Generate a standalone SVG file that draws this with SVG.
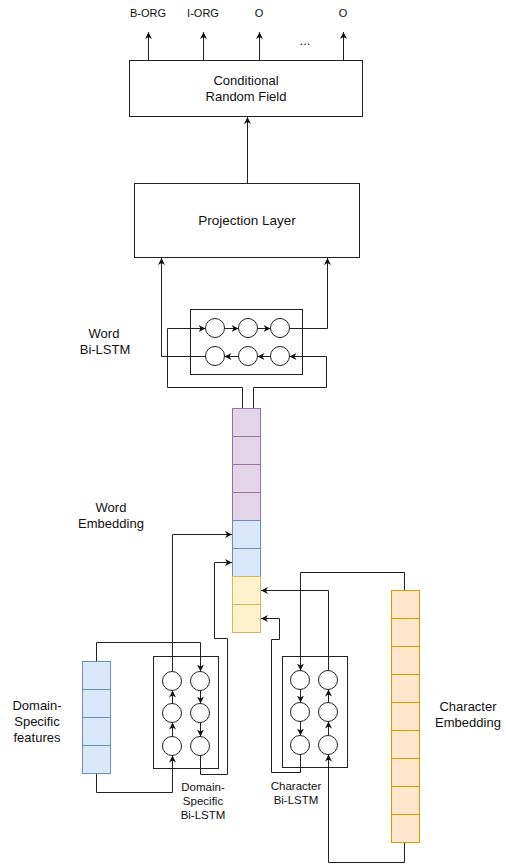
<svg xmlns="http://www.w3.org/2000/svg" width="506" height="865" viewBox="0 0 506 865">
<style>
.box{fill:#fff;stroke:#222;stroke-width:1}
.c{fill:#fff;stroke:#222;stroke-width:1}
.e{fill:none;stroke:#222;stroke-width:1}
.a{fill:none;stroke:#222;stroke-width:1;marker-end:url(#arr)}
.t{font-family:"Liberation Sans",Arial,sans-serif;fill:#111;text-anchor:middle}
.m{font-size:13px}
.s{font-size:11.5px}
.x{font-size:11px}
.pu{fill:#e1d5e7;stroke:#9673a6}
.bl{fill:#dae8fc;stroke:#6c8ebf}
.ye{fill:#fff2cc;stroke:#d6b656}
.or{fill:#ffe6cc;stroke:#d79b00}
</style>
<defs>
<marker id="arr" viewBox="0 0 10 10" refX="10" refY="5" markerWidth="7" markerHeight="7" markerUnits="userSpaceOnUse" orient="auto">
<path d="M0,0 L10,5 L0,10 L3,5 z" fill="#111"/>
</marker>
</defs>

<g id="labels-out">
<text class="t x" x="148" y="17">B-ORG</text>
<text class="t x" x="203" y="17">I-ORG</text>
<text class="t x" x="259" y="17">O</text>
<text class="t x" x="343" y="17">O</text>
<text class="t m" x="305" y="45">...</text>
</g>

<g id="crf">
<rect class="box" x="129.5" y="60.5" width="233" height="56"/>
<text class="t m" x="246" y="85">Conditional</text>
<text class="t m" x="246" y="101">Random Field</text>
</g>

<g id="projection">
<rect class="box" x="134.5" y="183.5" width="225" height="74"/>
<text class="t m" x="247" y="225" style="font-size:13.5px">Projection Layer</text>
</g>

<g id="word-bilstm">
<rect class="box" x="190.5" y="309.5" width="112" height="65"/>
<circle class="c" cx="215" cy="328" r="9.5"/>
<circle class="c" cx="248" cy="328" r="9.5"/>
<circle class="c" cx="280" cy="328" r="9.5"/>
<circle class="c" cx="215" cy="356" r="9.5"/>
<circle class="c" cx="248" cy="356" r="9.5"/>
<circle class="c" cx="280" cy="356" r="9.5"/>
<text class="t m" x="104" y="338">Word</text>
<text class="t m" x="105" y="354">Bi-LSTM</text>
</g>

<g id="word-embedding">
<rect class="pu" x="232.5" y="408.5" width="28" height="28"/>
<rect class="pu" x="232.5" y="436.5" width="28" height="28"/>
<rect class="pu" x="232.5" y="464.5" width="28" height="28"/>
<rect class="pu" x="232.5" y="492.5" width="28" height="28"/>
<rect class="bl" x="232.5" y="520.5" width="28" height="28"/>
<rect class="bl" x="232.5" y="548.5" width="28" height="28"/>
<rect class="ye" x="232.5" y="576.5" width="28" height="28"/>
<rect class="ye" x="232.5" y="604.5" width="28" height="28"/>
<text class="t m" x="111" y="512">Word</text>
<text class="t m" x="111" y="528">Embedding</text>
</g>

<g id="domain-features">
<rect class="bl" x="82.5" y="661.5" width="28" height="28"/>
<rect class="bl" x="82.5" y="689.5" width="28" height="28"/>
<rect class="bl" x="82.5" y="717.5" width="28" height="28"/>
<rect class="bl" x="82.5" y="745.5" width="28" height="28"/>
<text class="t m" x="37" y="710">Domain-</text>
<text class="t m" x="37" y="726">Specific</text>
<text class="t m" x="37" y="742">features</text>
</g>

<g id="domain-bilstm">
<rect class="box" x="153.5" y="656.5" width="65" height="112"/>
<circle class="c" cx="172" cy="681" r="9.5"/>
<circle class="c" cx="172" cy="713" r="9.5"/>
<circle class="c" cx="172" cy="746" r="9.5"/>
<circle class="c" cx="200" cy="681" r="9.5"/>
<circle class="c" cx="200" cy="713" r="9.5"/>
<circle class="c" cx="200" cy="746" r="9.5"/>
<text class="t s" x="203" y="791">Domain-</text>
<text class="t s" x="203" y="805">Specific</text>
<text class="t s" x="203" y="819">Bi-LSTM</text>
</g>

<g id="char-bilstm">
<rect class="box" x="282.5" y="656.5" width="65" height="111"/>
<circle class="c" cx="300" cy="680" r="9.5"/>
<circle class="c" cx="300" cy="712" r="9.5"/>
<circle class="c" cx="300" cy="745" r="9.5"/>
<circle class="c" cx="328" cy="680" r="9.5"/>
<circle class="c" cx="328" cy="712" r="9.5"/>
<circle class="c" cx="328" cy="745" r="9.5"/>
<text class="t s" x="296" y="790">Character</text>
<text class="t s" x="296" y="804">Bi-LSTM</text>
</g>

<g id="char-embedding">
<rect class="or" x="391.5" y="590.5" width="28" height="28"/>
<rect class="or" x="391.5" y="618.5" width="28" height="28"/>
<rect class="or" x="391.5" y="646.5" width="28" height="28"/>
<rect class="or" x="391.5" y="674.5" width="28" height="28"/>
<rect class="or" x="391.5" y="702.5" width="28" height="28"/>
<rect class="or" x="391.5" y="730.5" width="28" height="28"/>
<rect class="or" x="391.5" y="758.5" width="28" height="28"/>
<rect class="or" x="391.5" y="786.5" width="28" height="28"/>
<rect class="or" x="391.5" y="814.5" width="28" height="28"/>
<text class="t m" x="468" y="711">Character</text>
<text class="t m" x="468" y="727">Embedding</text>
</g>

<g id="connectors">
<!-- CRF outputs -->
<path class="a" d="M148.5,60 V32"/>
<path class="a" d="M203.5,60 V32"/>
<path class="a" d="M259.5,60 V32"/>
<path class="a" d="M343.5,60 V32"/>
<!-- projection to CRF -->
<path class="a" d="M247.5,183 V117"/>
<!-- word bilstm outputs -->
<path class="a" d="M205.5,356.5 H161.5 V258"/>
<path class="a" d="M289.5,328.5 H327.5 V258"/>
<!-- word bilstm internal -->
<path class="a" d="M224.5,328.5 H238.5"/>
<path class="a" d="M257.5,328.5 H270.5"/>
<path class="a" d="M270.5,356.5 H257.5"/>
<path class="a" d="M238.5,356.5 H224.5"/>
<!-- word embedding to bilstm -->
<path class="a" d="M242.5,408 V387.5 H167.5 V328.5 H205.5"/>
<path class="a" d="M253.5,408 V387.5 H326.5 V356.5 H289.5"/>
<!-- domain bilstm -->
<path class="a" d="M96.5,661 V642.5 H200.5 V671.5"/>
<path class="a" d="M200.5,690.5 V703.5"/>
<path class="a" d="M200.5,722.5 V736.5"/>
<path class="a" d="M200.5,755.5 V774.5 H227.5 V638.5 H214.5 V562.5 H232"/>
<path class="a" d="M96.5,774 V792.5 H172.5 V755.5"/>
<path class="a" d="M172.5,736.5 V722.5"/>
<path class="a" d="M172.5,703.5 V690.5"/>
<path class="a" d="M172.5,671.5 V534.5 H232"/>
<!-- char bilstm -->
<path class="a" d="M404.5,590 V572.5 H300.5 V670.5"/>
<path class="a" d="M300.5,689.5 V702.5"/>
<path class="a" d="M300.5,721.5 V735.5"/>
<path class="a" d="M300.5,754.5 V772.5 H271.5 V639.5 H279.5 V618.5 H261"/>
<path class="a" d="M404.5,843 V862.5 H328.5 V754.5"/>
<path class="a" d="M328.5,735.5 V721.5"/>
<path class="a" d="M328.5,702.5 V689.5"/>
<path class="a" d="M328.5,670.5 V590.5 H261"/>
</g>
</svg>
